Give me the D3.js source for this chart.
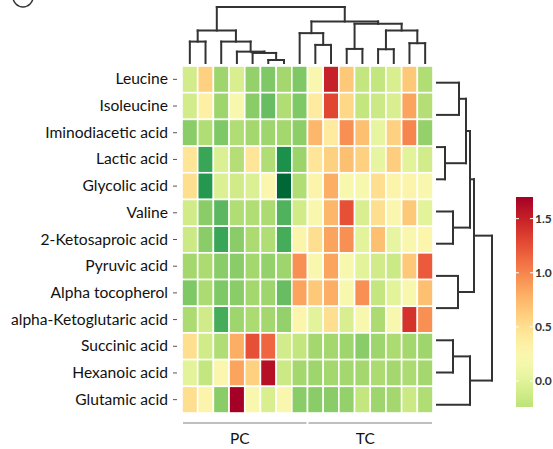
<!DOCTYPE html>
<html>
<head>
<meta charset="utf-8">
<script src="https://cdn.jsdelivr.net/npm/d3@7"></script>
<style>
  body { margin: 0; background: #fff; }
  text { font-family: Lato, "Open Sans", sans-serif; }
</style>
</head>
<body>
<div id="chart"></div>
<script>
// metabolites (rows) and samples (columns)
const metabolites = ["Leucine", "Isoleucine", "Iminodiacetic acid", "Lactic acid", "Glycolic acid",
  "Valine", "2-Ketosaproic acid", "Pyruvic acid", "Alpha tocopherol", "alpha-Ketoglutaric acid",
  "Succinic acid", "Hexanoic acid", "Glutamic acid"];
const samples = ["PC1", "PC2", "PC3", "PC4", "PC5", "PC6", "PC7", "PC8",
  "TC1", "TC2", "TC3", "TC4", "TC5", "TC6", "TC7", "TC8"];
const groups = [
  { name: "PC", from: "PC1", to: "PC8" },
  { name: "TC", from: "TC1", to: "TC8" }
];

// values, one array per metabolite
const leucine      = [-0.10, 0.60, -0.40, -0.07, -0.45, -0.55, -0.37, -0.55, 0.22, 1.50, 0.65, -0.20, -0.20, -0.07, 0.65, -0.30];
const isoleucine   = [-0.10, 0.35, -0.40, 0.20, -0.50, -0.65, -0.30, -0.55, 0.40, 1.30, 0.55, -0.20, -0.15, -0.07, 0.85, -0.28];
const iminodiac    = [-0.50, -0.30, -0.55, -0.30, -0.37, -0.40, -0.37, -0.48, 0.75, 0.40, 0.95, 0.70, 0.05, 0.60, 1.00, -0.45];
const lactic       = [0.45, -0.85, -0.05, -0.28, 0.45, -0.30, -1.00, -0.42, 0.45, 0.60, 0.70, 0.60, 0.05, 0.62, 0.00, -0.10];
const glycolic     = [0.50, -0.95, -0.05, -0.12, -0.05, 0.25, -1.30, -0.30, 0.30, 0.80, 0.20, 0.20, 0.50, 0.30, 0.30, 0.22];
const valine       = [-0.12, -0.50, -0.70, -0.30, -0.30, -0.33, -0.75, -0.12, 0.22, 0.75, 1.25, -0.07, 0.50, 0.25, 0.65, 0.00];
const ketosaproic  = [-0.15, -0.50, -0.85, -0.50, -0.33, -0.30, -0.80, 0.27, 0.50, 0.85, 0.95, 0.00, 0.70, 0.05, 0.22, 0.28];
const pyruvic      = [-0.37, -0.33, -0.50, -0.50, -0.37, -0.45, -0.40, 0.95, 0.22, 0.85, 0.20, 0.00, -0.12, -0.15, 0.65, 1.20];
const tocopherol   = [-0.55, -0.33, -0.55, -0.50, -0.37, -0.40, -0.65, 0.85, 0.65, 0.80, 0.20, 0.95, -0.20, 0.00, 0.20, 0.70];
const ketoglutaric = [-0.33, -0.12, -0.80, -0.40, -0.33, -0.37, -0.45, 0.28, 0.00, 0.50, -0.07, 0.20, -0.33, 0.20, 1.40, 0.95];
const succinic     = [0.50, -0.12, -0.30, 0.80, 1.25, 1.15, -0.10, -0.20, -0.37, -0.37, -0.40, -0.50, -0.40, -0.33, -0.37, -0.40];
const hexanoic     = [0.00, -0.20, 0.25, 0.85, 0.60, 1.60, -0.15, -0.37, -0.40, -0.37, -0.37, -0.37, -0.33, -0.37, -0.33, -0.37];
const glutamic     = [0.50, 0.30, -0.50, 1.70, 0.22, -0.07, 0.22, -0.50, -0.50, -0.50, -0.45, -0.20, -0.40, -0.37, -0.15, -0.30];
const values = [leucine, isoleucine, iminodiac, lactic, glycolic, valine, ketosaproic,
  pyruvic, tocopherol, ketoglutaric, succinic, hexanoic, glutamic];

// dendrograms: [height, left, right], leaves are column / leaf indices
const colTree = [55.7, [32.3, [21.3, 0, 1], [21.3, 2, [11.3, 3, [10, 4, [3, 5, 6]]]]],
  [41.3, [29.7, 7, [18, 8, 9]], [39, [14, 10, 11], [32.3, [13.7, 12, 13], [19.7, 14, 15]]]]];
const rowTree = [55, [37, [33, [29, [22, 0, 1], [8, 2, 3]], [16, 4, 5]], [21, 6, 7]], [33, [16, 8, 9], 10]];
const rowTreeLeaves = d3.range(11);

const legendTicks = [0, 0.5, 1.0, 1.5];
const legendRange = [-0.24, 1.7];

const W = 553, H = 449;
const svg = d3.select("#chart").append("svg")
  .attr("width", W).attr("height", H);

// scales
const x = d3.scaleBand().domain(samples).range([182, 433]);
const y = d3.scaleBand().domain(metabolites).range([66, 413]);
const color = d3.scaleSequential(t => d3.interpolateRdYlGn(1 - t))
  .domain([-1.26, 1.7]).clamp(true);

// panel letter (cut off at the top)
svg.append("circle")
  .attr("cx", 23).attr("cy", -3).attr("r", 10)
  .attr("fill", "none").attr("stroke", "#333").attr("stroke-width", 1.5);

// cells
const cells = [];
values.forEach((row, i) => row.forEach((v, j) => cells.push({ m: metabolites[i], s: samples[j], v })));
svg.append("g").selectAll("rect")
  .data(cells)
  .join("rect")
    .attr("x", d => x(d.s))
    .attr("y", d => y(d.m))
    .attr("width", x.bandwidth())
    .attr("height", y.bandwidth())
    .attr("fill", d => color(d.v))
    .attr("stroke", "#fff")
    .attr("stroke-width", 1.6);

// row labels
const yAxis = svg.append("g")
  .attr("transform", "translate(177,0)")
  .call(d3.axisLeft(y).tickSize(4).tickPadding(5));
yAxis.select(".domain").remove();
yAxis.selectAll("line").attr("stroke", "#555");
yAxis.selectAll("text")
  .attr("fill", "#111")
  .style("font-size", "15.6px");

// dendrogram helper
function drawTree(g, tree, leafPos, hPos, horizontal) {
  const segs = [];
  function walk(node) {
    if (typeof node === "number") return { p: leafPos(node), h: 0 };
    const [h, a, b] = node;
    const ca = walk(a), cb = walk(b);
    [ca, cb].forEach(c => segs.push([[c.p, c.h], [c.p, h]]));
    segs.push([[ca.p, h], [cb.p, h]]);
    return { p: (ca.p + cb.p) / 2, h };
  }
  walk(tree);
  g.selectAll("line")
    .data(segs)
    .join("line")
      .attr("x1", d => horizontal ? hPos(d[0][1]) : d[0][0])
      .attr("y1", d => horizontal ? d[0][0] : hPos(d[0][1]))
      .attr("x2", d => horizontal ? hPos(d[1][1]) : d[1][0])
      .attr("y2", d => horizontal ? d[1][0] : hPos(d[1][1]))
      .attr("stroke", "#333")
      .attr("stroke-width", 2)
      .attr("stroke-linecap", "square");
}

// column dendrogram
const colH = d3.scaleLinear().domain([0, 55.7]).range([63, 7]);
drawTree(svg.append("g"), colTree, i => x(samples[i]) + x.bandwidth() / 2, colH, false);

// row dendrogram (own leaf spacing)
const rowLeaf = d3.scalePoint().domain(rowTreeLeaves).range([82.7, 404.7]);
const rowH = d3.scaleLinear().domain([0, 55]).range([437, 492]);
drawTree(svg.append("g"), rowTree, i => rowLeaf(i), rowH, true);

// group brackets
const grp = svg.append("g");
groups.forEach(gp => {
  const x1 = x(gp.from) + 1, x2 = x(gp.to) + x.bandwidth() - 1;
  grp.append("line")
    .attr("x1", x1).attr("x2", x2).attr("y1", 423).attr("y2", 423)
    .attr("stroke", "#aaa").attr("stroke-width", 1.5);
  grp.append("text")
    .attr("x", (x1 + x2) / 2 - 5).attr("y", 444)
    .attr("text-anchor", "middle")
    .attr("fill", "#111")
    .style("font-size", "15.5px")
    .text(gp.name);
});

// colour legend
const ly = d3.scaleLinear().domain(legendRange).range([407, 197]);
const defs = svg.append("defs");
const grad = defs.append("linearGradient")
  .attr("id", "lg").attr("x1", 0).attr("x2", 0).attr("y1", 1).attr("y2", 0);
d3.range(0, 1.0001, 0.05).forEach(t => {
  const v = legendRange[0] + t * (legendRange[1] - legendRange[0]);
  grad.append("stop").attr("offset", t).attr("stop-color", color(v));
});
svg.append("rect")
  .attr("x", 516).attr("y", ly(legendRange[1]))
  .attr("width", 17).attr("height", ly(legendRange[0]) - ly(legendRange[1]))
  .attr("fill", "url(#lg)");
const lg = svg.append("g");
legendTicks.forEach(t => {
  lg.append("line").attr("x1", 516).attr("x2", 519).attr("y1", ly(t)).attr("y2", ly(t))
    .attr("stroke", "#fff").attr("stroke-width", 1);
  lg.append("line").attr("x1", 530).attr("x2", 533).attr("y1", ly(t)).attr("y2", ly(t))
    .attr("stroke", "#fff").attr("stroke-width", 1);
  lg.append("text")
    .attr("x", 535).attr("y", ly(t)).attr("dy", "0.35em")
    .attr("fill", "#333")
    .style("font-size", "12px")
    .style("font-weight", "bold")
    .text(d3.format(".1f")(t));
});
</script>
</body>
</html>
